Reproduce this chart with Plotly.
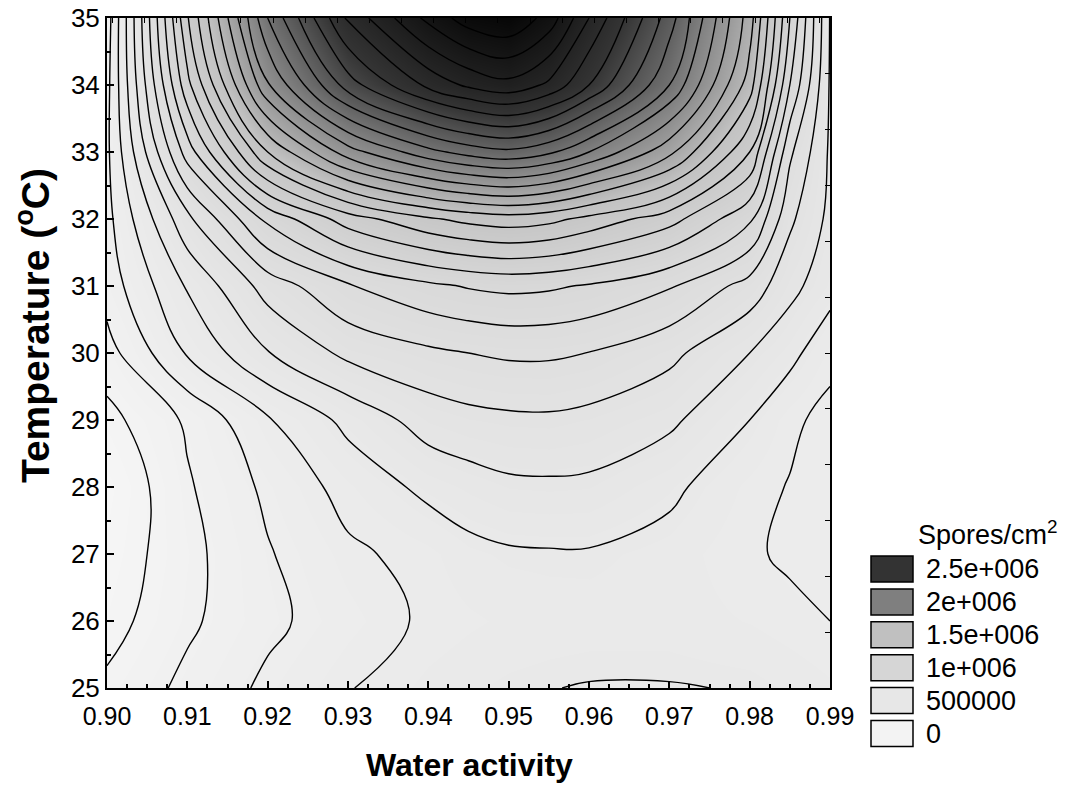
import plotly.graph_objects as go
import numpy as np

# ---- data ----
water_activity = [0.90, 0.91, 0.92, 0.93, 0.94, 0.945, 0.95, 0.955, 0.96, 0.97, 0.98, 0.985, 0.99]
temperature_c = [25, 26, 27, 28, 29, 30, 31, 32, 33, 34, 35]

# estimated surface, in units of 1e5 spores/cm2 (rows = temperature, cols = water activity)
spores_1e5 = [
    [1.20, 2.25, 3.20, 3.95, 4.55, 4.75, 4.90, 4.98, 5.04, 5.04, 4.96, 4.75, 4.50],    # 25
    [0.60, 1.82, 2.78, 3.51, 4.15, 4.35, 4.50, 4.58, 4.62, 4.62, 4.40, 4.20, 4.00],    # 26
    [0.30, 1.70, 2.92, 3.83, 4.30, 4.72, 4.88, 4.92, 4.92, 4.65, 4.10, 3.88, 3.70],    # 27
    [0.02, 1.88, 3.21, 4.35, 5.25, 5.55, 5.80, 5.84, 5.80, 5.21, 4.30, 3.95, 3.65],    # 28
    [0.67, 2.15, 3.90, 5.27, 6.45, 6.70, 6.81, 6.84, 6.70, 6.20, 5.00, 4.20, 3.70],    # 29
    [1.60, 4.10, 5.95, 7.25, 7.80, 8.00, 8.15, 8.15, 7.98, 7.26, 6.00, 5.30, 4.30],    # 30
    [2.45, 5.10, 7.42, 8.90, 9.78, 10.08, 10.24, 10.15, 9.90, 9.10, 7.60, 6.30, 5.40], # 31
    [2.70, 6.73, 10.25, 12.50, 13.85, 14.30, 14.54, 14.30, 13.70, 12.40, 10.20, 7.20, 5.75],  # 32
    [2.80, 9.46, 15.00, 18.55, 20.67, 21.40, 21.77, 21.20, 20.00, 17.30, 13.00, 8.20, 5.85],  # 33
    [2.70, 11.69, 18.89, 23.51, 26.27, 27.20, 27.69, 26.80, 25.00, 21.00, 15.50, 10.00, 5.90],# 34
    [2.50, 12.90, 21.00, 26.20, 29.30, 30.50, 30.90, 29.60, 27.00, 22.50, 16.50, 11.00, 5.95],# 35
]

x_tick_vals = [0.90, 0.91, 0.92, 0.93, 0.94, 0.95, 0.96, 0.97, 0.98, 0.99]
x_tick_text = ["0.90", "0.91", "0.92", "0.93", "0.94", "0.95", "0.96", "0.97", "0.98", "0.99"]
y_tick_vals = [25, 26, 27, 28, 29, 30, 31, 32, 33, 34, 35]

legend_title = "Spores/cm<sup>2</sup>"
legend_labels = ["2.5e+006", "2e+006", "1.5e+006", "1e+006", "500000", "0"]
legend_colors = ["#333333", "#7f7f7f", "#c0c0c0", "#d6d6d6", "#e7e7e7", "#f3f3f3"]

FONT = "Liberation Sans, Arial, sans-serif"

z = np.array(spores_1e5) * 1e5
ZMAX = 3.1e6
colorscale = [
    [0.0, "#f6f6f6"],
    [0.5e6 / ZMAX, "#e9e9e9"],
    [1.0e6 / ZMAX, "#d9d9d9"],
    [1.5e6 / ZMAX, "#c2c2c2"],
    [2.0e6 / ZMAX, "#808080"],
    [2.5e6 / ZMAX, "#343434"],
    [1.0, "#060606"],
]

fig = go.Figure()
fig.add_trace(go.Contour(
    x=water_activity, y=temperature_c, z=z,
    zmin=0, zmax=ZMAX, colorscale=colorscale, showscale=False,
    contours=dict(start=0, end=ZMAX, size=1e5, coloring="heatmap", showlines=True),
    line=dict(color="black", width=1.4, smoothing=1.1),
    hoverinfo="skip",
))
# invisible trace so the extra (top / right) tick axes are drawn
fig.add_trace(go.Scatter(x=[None], y=[None], xaxis="x2", yaxis="y2",
                         showlegend=False, hoverinfo="skip"))

# plot area in pixels
L, R, T, B = 107, 830, 18, 688
W, H = 1065, 787


def px(xp):
    return (xp - L) / (R - L)


def py(yp):
    return (B - yp) / (B - T)


fig.update_layout(
    width=W, height=H,
    margin=dict(l=L, r=W - R, t=T, b=H - B),
    paper_bgcolor="white", plot_bgcolor="white",
    font=dict(family=FONT, color="black"),
    showlegend=False,
    xaxis=dict(
        range=[0.90, 0.99], tickvals=x_tick_vals, ticktext=x_tick_text,
        ticks="inside", ticklen=7, tickwidth=1.5, tickcolor="black",
        minor=dict(ticks="inside", ticklen=4, dtick=0.0025, tick0=0.90, tickcolor="black"),
        showline=True, linecolor="black", linewidth=2, mirror=True,
        showgrid=False, zeroline=False, automargin=False, ticklabelstandoff=5,
        tickfont=dict(size=25, family=FONT),
    ),
    yaxis=dict(
        range=[25, 35], tickvals=y_tick_vals,
        ticks="inside", ticklen=7, tickwidth=1.5, tickcolor="black",
        minor=dict(ticks="inside", ticklen=4, dtick=0.5, tick0=25, tickcolor="black"),
        showline=True, linecolor="black", linewidth=2, mirror=True,
        showgrid=False, zeroline=False, automargin=False,
        tickfont=dict(size=26, family=FONT),
    ),
    xaxis2=dict(
        overlaying="x", side="top", anchor="y2", range=[0.90, 0.99],
        tick0=0.90067, dtick=0.004, ticks="inside", ticklen=5, tickcolor="black",
        showticklabels=False, showgrid=False, zeroline=False, showline=False,
        automargin=False,
    ),
    yaxis2=dict(
        overlaying="y", side="right", anchor="x2", range=[25, 35],
        tick0=25, dtick=10 / 12, ticks="inside", ticklen=5, tickcolor="black",
        showticklabels=False, showgrid=False, zeroline=False, showline=False,
        automargin=False,
    ),
)

# axis titles
fig.add_annotation(x=px(469), y=py(765), xref="paper", yref="paper",
                   text="<b>Water activity</b>", showarrow=False,
                   font=dict(size=32, family=FONT), xanchor="center", yanchor="middle")
fig.add_annotation(x=px(32), y=py(326), xref="paper", yref="paper",
                   text="<b>Temperature (<sup>o</sup>C)</b>", showarrow=False, textangle=-90,
                   font=dict(size=39, family=FONT), xanchor="center", yanchor="middle")

# legend built from shapes + text
fig.add_annotation(x=px(916), y=py(533), xref="paper", yref="paper",
                   text=legend_title, showarrow=False, xanchor="left", yanchor="middle",
                   font=dict(size=27, family=FONT))
top0, step = 556, 32.9
for i, (lab, col) in enumerate(zip(legend_labels, legend_colors)):
    y0 = top0 + i * step
    fig.add_shape(type="rect", xref="paper", yref="paper",
                  x0=px(871), x1=px(913), y0=py(y0), y1=py(y0 + 26),
                  fillcolor=col, line=dict(color="black", width=1.5))
    fig.add_annotation(x=px(924), y=py(y0 + 13), xref="paper", yref="paper",
                       text=lab, showarrow=False, xanchor="left", yanchor="middle",
                       font=dict(size=27, family=FONT))

fig.write_html("out.html")
